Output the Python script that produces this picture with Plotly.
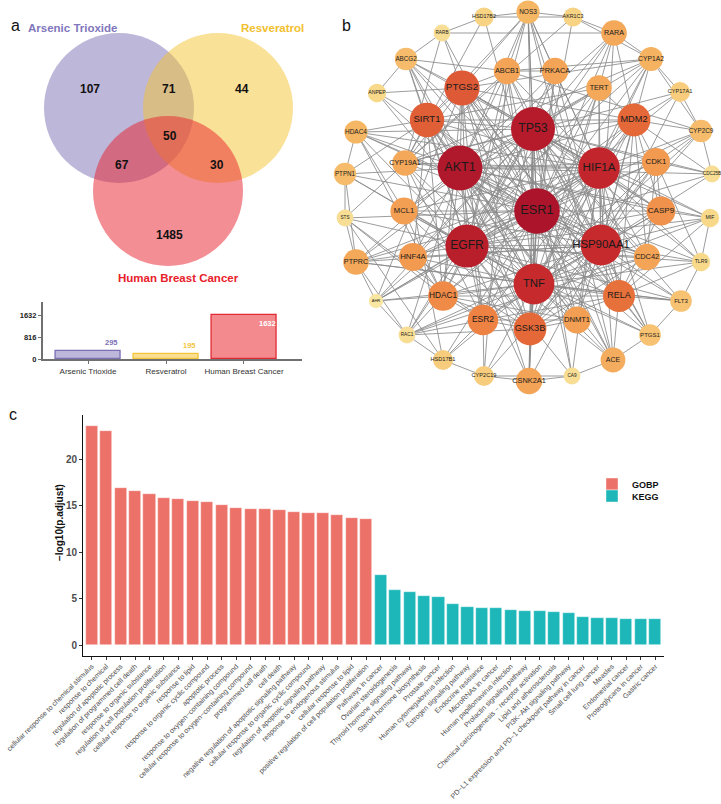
import plotly.graph_objects as go

W, H = 721, 804
FONT = "Arial, 'Liberation Sans', Helvetica, sans-serif"

# ================= DATA =================
# ---- Panel a: Venn diagram of targets ----
set_names = ["Arsenic Trioxide", "Resveratrol", "Human Breast Cancer"]
set_sizes = [295, 195, 1632]
# regions: AT only, AT&RES, RES only, all three, AT&HBC, RES&HBC, HBC only
region_counts = [107, 71, 44, 50, 67, 30, 1485]
inset_yticks = [0, 816, 1632]

# ---- Panel b: PPI network of the 50 shared targets ----
gene_names = ["ESR1", "AKT1", "TP53", "EGFR", "HIF1A", "HSP90AA1", "TNF",
              "PTGS2", "SIRT1", "GSK3B", "MDM2", "RELA", "ESR2", "HDAC1", "CASP9", "CDK1", "HNF4A", "DNMT1", "MCL1",
              "CSNK2A1", "PRKACA", "ABCB1", "CDC42", "TERT", "RARA", "PTPRC", "CYP19A1", "ACE", "CYP1A2", "NOS3", "HDAC4",
              "CYP2C9", "ABCG2", "PTPN1", "FLT3", "PTGS1", "CYP2C19", "HSD17B1", "CYP17A1", "HSD17B2", "AKR1C3", "ANPEP",
              "TLR9", "MIF", "RARB", "CA9", "RAC1", "STS", "CDC25B", "AHR"]
gene_degree = [42, 41, 40, 39, 37, 36, 36,
               29, 28, 26, 26, 25, 23, 22, 21, 20, 20, 19, 19,
               18, 18, 18, 18, 17, 17, 17, 17, 16, 15, 14, 14,
               13, 13, 13, 12, 12, 10, 10, 10, 9, 9, 8,
               8, 8, 6, 6, 6, 6, 6, 3]
ppi_adjacency = {
    "ESR1": "AKT1 TP53 EGFR HSP90AA1 HIF1A TNF GSK3B PTGS2 SIRT1 MDM2 RELA ESR2 HDAC1 CASP9 CDK1 HNF4A CDC42 PTPRC DNMT1 MCL1 CYP19A1 ABCB1 PRKACA RARA TERT CSNK2A1 ACE NOS3 ABCG2 CYP1A2 PTPN1 HDAC4 CYP2C9 CYP17A1 AKR1C3 HSD17B2 STS HSD17B1 AHR RARB CA9",
    "AKT1": "TP53 EGFR HSP90AA1 HIF1A TNF GSK3B PTGS2 SIRT1 MDM2 RELA ESR2 HDAC1 CASP9 CDK1 HNF4A CDC42 PTPRC DNMT1 MCL1 CYP19A1 ABCB1 PRKACA RARA TERT CSNK2A1 ACE NOS3 ABCG2 PTPN1 HDAC4 MIF TLR9 FLT3 RAC1 PTGS1 CDC25B ANPEP",
    "TP53": "EGFR HSP90AA1 HIF1A TNF GSK3B PTGS2 SIRT1 MDM2 RELA ESR2 HDAC1 CASP9 CDK1 HNF4A CDC42 PTPRC DNMT1 MCL1 CYP19A1 ABCB1 PRKACA RARA TERT CSNK2A1 ACE NOS3 CYP1A2 HDAC4 MIF CDC25B TLR9 FLT3 RAC1 PTGS1 AHR CA9",
    "EGFR": "HSP90AA1 HIF1A TNF GSK3B PTGS2 SIRT1 MDM2 RELA ESR2 HDAC1 CASP9 CDK1 CDC42 PTPRC MCL1 CYP19A1 ABCB1 PRKACA RARA TERT CSNK2A1 ACE NOS3 ABCG2 PTPN1 HDAC4 TLR9 FLT3 RAC1 PTGS1 CDC25B MIF STS AHR CA9",
    "HSP90AA1": "HIF1A TNF GSK3B PTGS2 SIRT1 MDM2 RELA ESR2 HDAC1 CASP9 CDK1 HNF4A CDC42 PTPRC DNMT1 MCL1 ABCB1 PRKACA RARA TERT CSNK2A1 NOS3 ABCG2 CYP1A2 HDAC4 MIF FLT3 PTGS1 CDC25B RAC1 TLR9 CYP17A1",
    "HIF1A": "TNF GSK3B PTGS2 SIRT1 MDM2 RELA ESR2 HDAC1 CASP9 CDK1 HNF4A CDC42 PTPRC DNMT1 MCL1 CYP19A1 ABCB1 PRKACA TERT ACE NOS3 ABCG2 CYP1A2 HDAC4 MIF TLR9 CA9 AHR PTGS1 CYP2C9",
    "TNF": "GSK3B PTGS2 SIRT1 MDM2 RELA ESR2 HDAC1 CASP9 CDK1 HNF4A CDC42 PTPRC DNMT1 MCL1 CYP19A1 ABCB1 TERT CSNK2A1 ACE NOS3 ABCG2 CYP1A2 PTPN1 MIF TLR9 FLT3 PTGS1 RAC1 AHR HSD17B1 CYP2C19 CYP2C9 ANPEP",
    "GSK3B": "PTGS2 SIRT1 MDM2 RELA ESR2 HDAC1 CASP9 CDK1 CDC42 DNMT1 MCL1 CSNK2A1 PRKACA TERT RAC1 HNF4A",
    "PTGS2": "SIRT1 MDM2 RELA ESR2 HDAC1 CASP9 CYP19A1 ABCB1 PTGS1 NOS3 ACE CYP1A2 ABCG2 ANPEP RARB AHR",
    "SIRT1": "MDM2 RELA HDAC1 HDAC4 DNMT1 TERT CYP19A1 ABCG2 ANPEP PTPN1 NOS3 HNF4A",
    "MDM2": "RELA CDK1 CASP9 TERT CDC42 RARA CYP17A1 CYP2C9 CDC25B",
    "RELA": "HDAC1 ESR2 CASP9 CDC42 FLT3 PTGS1 ACE TLR9 MIF",
    "ESR2": "HDAC1 DNMT1 CYP19A1 STS HSD17B1 CYP2C19 RAC1",
    "HDAC1": "DNMT1 HDAC4 HNF4A MCL1 AHR RAC1 STS",
    "CYP19A1": "STS HSD17B1 HSD17B2 CYP17A1 AKR1C3 CYP1A2 ABCB1 RARB",
    "ABCB1": "ABCG2 PRKACA CYP1A2 CYP2C9 CYP2C19 NOS3",
    "CDK1": "CDC25B CDC42 CASP9 CYP2C9 TLR9",
    "NOS3": "HSD17B2 AKR1C3 PRKACA ACE",
    "HSD17B2": "RARB AKR1C3",
    "AKR1C3": "RARA CYP1A2",
    "RARA": "CYP1A2 RARB TERT",
    "CYP1A2": "CYP17A1 CYP2C9 AHR",
    "CYP17A1": "CYP2C9",
    "CYP2C9": "CDC25B CYP2C19",
    "ABCG2": "ANPEP RARB",
    "HDAC4": "PTPN1 MCL1",
    "PTPN1": "STS PTPRC",
    "STS": "PTPRC HSD17B1",
    "PTPRC": "AHR RAC1 FLT3",
    "AHR": "RAC1",
    "RAC1": "HSD17B1 CDC42",
    "HSD17B1": "CYP2C19",
    "CYP2C19": "CSNK2A1 CA9",
    "CSNK2A1": "CA9",
    "CA9": "ACE",
    "ACE": "PTGS1",
    "PTGS1": "FLT3",
    "FLT3": "TLR9",
    "TLR9": "MIF",
    "MIF": "CASP9",
}

# ---- Panel c: enrichment ----
gobp_terms = ["cellular response to chemical stimulus", "response to chemical",
              "regulation of apoptotic process", "regulation of programmed cell death",
              "response to organic substance", "regulation of cell population proliferation",
              "cellular response to organic substance", "response to lipid",
              "response to organic cyclic compound", "apoptotic process",
              "response to oxygen\u2212containing compound", "cellular response to oxygen\u2212containing compound",
              "programmed cell death", "cell death",
              "negative regulation of apoptotic signaling pathway", "cellular response to organic cyclic compound",
              "regulation of apoptotic signaling pathway", "response to endogenous stimulus",
              "cellular response to lipid", "positive regulation of cell population proliferation"]
gobp_vals = [23.55, 22.98, 16.9, 16.6, 16.28, 15.85, 15.7, 15.45, 15.38, 15.02,
             14.7, 14.67, 14.6, 14.57, 14.34, 14.24, 14.16, 14.02, 13.62, 13.6]
kegg_terms = ["Pathways in cancer", "Ovarian steroidogenesis", "Thyroid hormone signaling pathway",
              "Steroid hormone biosynthesis", "Prostate cancer", "Human cytomegalovirus infection",
              "Estrogen signaling pathway", "Endocrine resistance", "MicroRNAs in cancer",
              "Human papillomavirus infection", "Prolactin signaling pathway",
              "Chemical carcinogenesis \u2212 receptor activation", "Lipid and atherosclerosis",
              "PI3K\u2212Akt signaling pathway", "PD\u2212L1 expression and PD\u22121 checkpoint pathway in cancer",
              "Small cell lung cancer", "Measles", "Endometrial cancer", "Proteoglycans in cancer", "Gastric cancer"]
kegg_vals = [7.53, 5.9, 5.67, 5.31, 5.2, 4.38, 4.05, 4.03, 3.95, 3.73,
             3.62, 3.62, 3.6, 3.4, 3.01, 2.94, 2.94, 2.76, 2.76, 2.76]

# ================= LAYOUT / STYLE =================
def px(x):
    return x / W

def py(y):
    return 1 - y / H

venn_centers = [(119, 108), (218, 108), (168, 191)]
venn_r = 75
venn_fill = ["rgba(123,111,181,0.5)", "rgba(245,196,49,0.5)", "rgba(232,32,42,0.5)"]
venn_title_color = ["#8177BC", "#F2C02F", "#E8202A"]
venn_title_xy = [(72, 28), (272, 28), (178, 278)]
region_xy = [(90, 89), (169, 89), (242, 89), (170, 136), (122, 165), (217, 165), (169, 235)]
inset_fill = ["#BDB7DA", "#FADF92", "#F38A8E"]
inset_line = ["#7B6FB5", "#F2C53D", "#E22A34"]

node_xy = {
    "NOS3": (528, 12), "HSD17B2": (484, 17), "AKR1C3": (573, 17), "RARB": (442, 33), "RARA": (614, 33),
    "ABCG2": (406, 59), "CYP1A2": (651, 59), "ABCB1": (507, 71), "PRKACA": (555, 71), "TERT": (599, 88),
    "PTGS2": (462, 88), "ANPEP": (377, 93), "CYP17A1": (680, 92), "SIRT1": (427, 120), "MDM2": (634, 120),
    "TP53": (533, 129), "HDAC4": (356, 132), "CYP2C9": (701, 131), "CYP19A1": (405, 163), "AKT1": (460, 168),
    "HIF1A": (599, 168), "CDK1": (656, 162), "CDC25B": (712, 174), "PTPN1": (345, 174), "STS": (345, 218),
    "PTPRC": (356, 262), "ESR1": (537, 211), "MCL1": (404, 211), "CASP9": (661, 211), "MIF": (710, 218),
    "EGFR": (467, 246), "HSP90AA1": (601, 245), "HNF4A": (413, 257), "CDC42": (647, 257), "TLR9": (701, 262),
    "TNF": (534, 284), "HDAC1": (443, 296), "RELA": (619, 296), "AHR": (376, 301), "FLT3": (681, 301),
    "ESR2": (483, 320), "GSK3B": (530, 329), "DNMT1": (577, 320), "RAC1": (407, 335), "PTGS1": (650, 335),
    "HSD17B1": (443, 360), "ACE": (613, 360), "CYP2C19": (484, 376), "CSNK2A1": (529, 381), "CA9": (572, 376),
}
node_colorscale = [[0.0, "#F9E6A2"], [0.128, "#F8D98A"], [0.28, "#F6B765"], [0.436, "#F19A50"],
                   [0.513, "#EE8242"], [0.59, "#E46838"], [0.667, "#DE5A37"], [0.846, "#C62A2C"],
                   [1.0, "#AC142B"]]

fig = go.Figure()

# ---------- Panel b: edges ----------
seen = set()
ex, ey = [], []
for a, nbrs in ppi_adjacency.items():
    for b in nbrs.split():
        key = tuple(sorted((a, b)))
        if key in seen or a == b:
            continue
        seen.add(key)
        ex += [node_xy[a][0], node_xy[b][0], None]
        ey += [node_xy[a][1], node_xy[b][1], None]
fig.add_trace(go.Scatter(x=ex, y=ey, mode="lines", xaxis="x2", yaxis="y2",
                         line=dict(color="#8a8a8a", width=0.85),
                         hoverinfo="skip", showlegend=False))

# ---------- Panel b: nodes (draw small first) ----------
order = sorted(range(len(gene_names)), key=lambda i: gene_degree[i])
radii = [0.4 * gene_degree[i] + 6 for i in order]
fig.add_trace(go.Scatter(
    x=[node_xy[gene_names[i]][0] for i in order],
    y=[node_xy[gene_names[i]][1] for i in order],
    mode="markers+text", xaxis="x2", yaxis="y2",
    text=[gene_names[i] for i in order], textposition="middle center",
    textfont=dict(family=FONT, color="#1a1a1a", size=[0.56 * r for r in radii]),
    marker=dict(size=[2 * r for r in radii], color=[gene_degree[i] for i in order],
                colorscale=node_colorscale, cmin=3, cmax=42, line=dict(width=0), opacity=1),
    cliponaxis=False, showlegend=False, hoverinfo="text"))

# ---------- Panel a: Venn circles ----------
shapes = []
for (cx, cy), fc in zip(venn_centers, venn_fill):
    shapes.append(dict(type="circle", xref="x2", yref="y2", x0=cx - venn_r, x1=cx + venn_r,
                       y0=cy - venn_r, y1=cy + venn_r, fillcolor=fc, line=dict(width=0), layer="below"))

annotations = []
for (x, y), n in zip(region_xy, region_counts):
    annotations.append(dict(x=x, y=y, xref="x2", yref="y2", text=f"<b>{n}</b>", showarrow=False,
                            font=dict(family=FONT, size=12, color="#111")))
for (x, y), name, c in zip(venn_title_xy, set_names, venn_title_color):
    annotations.append(dict(x=x, y=y, xref="x2", yref="y2", text=f"<b>{name}</b>", showarrow=False,
                            font=dict(family=FONT, size=11.5, color=c)))

# ---------- Panel a: inset bar chart ----------
for i, (name, v) in enumerate(zip(set_names, set_sizes)):
    fig.add_trace(go.Bar(x=[name], y=[v], xaxis="x3", yaxis="y3", width=0.84,
                         marker=dict(color=inset_fill[i], line=dict(color=inset_line[i], width=1.3)),
                         showlegend=False, hoverinfo="y"))
    if i < 2:
        annotations.append(dict(x=i + 0.41, y=v, xref="x3", yref="y3", text=f"<b>{v}</b>",
                                xanchor="right", yanchor="bottom", yshift=2, showarrow=False,
                                font=dict(family=FONT, size=7.5, color=inset_line[i])))
    else:
        annotations.append(dict(x=i + 0.43, y=v, xref="x3", yref="y3", text=f"<b>{v}</b>",
                                xanchor="right", yanchor="top", yshift=-2, showarrow=False,
                                font=dict(family=FONT, size=7.5, color="white")))
# axis arrow heads
fig.add_trace(go.Scatter(x=[-0.581, 2.74], y=[2125, 0], xaxis="x3", yaxis="y3", mode="markers",
                         marker=dict(symbol=["triangle-up", "triangle-right"], size=7, color="#707070"),
                         cliponaxis=False, showlegend=False, hoverinfo="skip"))

# ---------- Panel c: enrichment bars ----------
cats = gobp_terms + kegg_terms
fig.add_trace(go.Bar(x=gobp_terms, y=gobp_vals, name="GOBP", width=0.84,
                     marker=dict(color="#EC7269", line=dict(color="rgba(255,255,255,0.7)", width=0.6)),
                     legend="legend"))
fig.add_trace(go.Bar(x=kegg_terms, y=kegg_vals, name="KEGG", width=0.84,
                     marker=dict(color="#1DB7BA", line=dict(color="rgba(255,255,255,0.7)", width=0.6)),
                     legend="legend2"))

annotations.append(dict(x=px(59), y=py(523), xref="paper", yref="paper", xanchor="center", yanchor="middle",
                        text="<b>\u2212log10(p.adjust)</b>",
                        textangle=-90, showarrow=False, font=dict(family=FONT, size=10, color="#111")))
for lab, (x, y) in zip(["a", "b", "c"], [(9, 15), (346, 15), (7, 414)]):
    annotations.append(dict(x=px(x), y=py(y), xref="paper", yref="paper", text=lab, showarrow=False,
                            font=dict(family=FONT, size=16, color="#111")))

axis_hidden = dict(visible=False, showgrid=False, zeroline=False, fixedrange=True)
fig.update_layout(
    width=W, height=H, autosize=False,
    margin=dict(l=0, r=0, t=0, b=0),
    paper_bgcolor="white", plot_bgcolor="rgba(0,0,0,0)",
    barmode="overlay", bargap=0,
    font=dict(family=FONT),
    shapes=shapes, annotations=annotations,
    # panel c
    xaxis=dict(domain=[px(83), px(664)], anchor="y", type="category", categoryorder="array",
               categoryarray=cats, range=[-0.6, 39.6], tickmode="linear", dtick=1, tick0=0,
               tickangle=-45, tickfont=dict(family=FONT, size=7.1, color="#4D4D4D"),
               ticks="outside", ticklen=2.5, tickcolor="#333", showline=True, linecolor="#111",
               linewidth=1, showgrid=False, zeroline=False, automargin=False),
    yaxis=dict(domain=[py(656), py(415)], anchor="x", range=[-1.18, 24.73], tickvals=[0, 5, 10, 15, 20],
               tickfont=dict(family=FONT, size=10, color="#4D4D4D", weight="bold"),
               ticks="outside", ticklen=3, tickcolor="#333", showline=True, linecolor="#111",
               linewidth=1, showgrid=False, zeroline=False, automargin=False),
    # overlay in pixel space (panels a & b)
    xaxis2=dict(domain=[0, 1], range=[0, W], anchor="y2", **axis_hidden),
    yaxis2=dict(domain=[0, 1], range=[H, 0], anchor="x2", **axis_hidden),
    # inset bar chart of panel a
    xaxis3=dict(domain=[px(42.7), px(301.7)], anchor="y3", type="category", range=[-0.581, 2.74],
                tickfont=dict(family=FONT, size=8, color="#333"), ticks="outside", ticklen=3,
                tickcolor="#707070", showline=True, linecolor="#707070", linewidth=1.5,
                showgrid=False, zeroline=False, automargin=False, fixedrange=True),
    yaxis3=dict(domain=[py(359.3), py(302)], anchor="x3", range=[0, 2125], tickvals=inset_yticks,
                tickfont=dict(family=FONT, size=7.5, color="#222", weight="bold"), ticks="outside",
                ticklen=3, tickcolor="#707070", showline=True, linecolor="#707070", linewidth=1.5,
                showgrid=False, zeroline=False, automargin=False, fixedrange=True),
    legend=dict(x=px(592), y=py(484), xanchor="left", yanchor="middle", bgcolor="rgba(0,0,0,0)",
                font=dict(family=FONT, size=9, color="#111", weight="bold"), itemwidth=30),
    legend2=dict(x=px(592), y=py(496), xanchor="left", yanchor="middle", bgcolor="rgba(0,0,0,0)",
                 font=dict(family=FONT, size=9, color="#111", weight="bold"), itemwidth=30),
    showlegend=True,
)

fig.write_html("out.html")
